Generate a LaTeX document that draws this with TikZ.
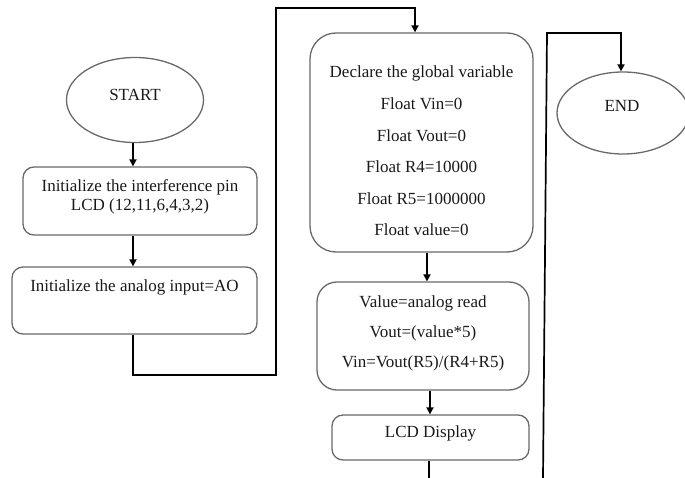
\documentclass[tikz,border=0pt]{standalone}
\usepackage{fontspec}
\setmainfont{Liberation Serif}
\usetikzlibrary{shapes.geometric,arrows.meta,calc}
\definecolor{boxgray}{RGB}{105,105,105}
\definecolor{inkgray}{RGB}{25,25,25}
\begin{document}
\begin{tikzpicture}[x=1pt,y=-1pt,
  flow/.style={draw=boxgray,line width=1.3pt,rounded corners=11pt,inner sep=0},
  term/.style={ellipse,draw=boxgray,line width=1.3pt,inner sep=0},
  wire/.style={line width=1.7pt,black},
  arrowwire/.style={wire,-{Triangle[length=7pt,width=7pt]}},
  txt/.style={font=\fontsize{17}{19}\selectfont,text=inkgray,inner sep=0,align=center}]
\useasboundingbox (0,0) rectangle (685,478);

% terminals
\node[term,minimum width=137,minimum height=85] (start) at (135,100) {};
\node[txt] (starttxt) at (135,95) {START};
\node[term,minimum width=132,minimum height=82] (stop) at (623,113) {};
\node[txt] (stoptxt) at (622,106) {END};

% process boxes
\node[flow,minimum width=234,minimum height=68] (pins) at (140,201) {};
\node[txt,font=\fontsize{17}{19}\selectfont] (pinstxt) at (140,196.5) {Initialize the interference pin\\LCD (12,11,6,4,3,2)};

\node[flow,minimum width=245,minimum height=67] (adc) at (134.5,300.5) {};
\node[txt] (adctxt) at (134.5,287) {Initialize the analog input=AO};

\node[flow,rounded corners=26pt,minimum width=223,minimum height=219] (vars) at (421.5,142.5) {};
\node[txt,font=\fontsize{17}{31.6}\selectfont] (varstxt) at (421.5,151) {Declare the global variable\\Float Vin=0\\Float Vout=0\\Float R4=10000\\Float R5=1000000\\Float value=0};

\node[flow,rounded corners=20pt,minimum width=212,minimum height=108] (calc) at (423,336) {};
\node[txt,font=\fontsize{17}{30}\selectfont] (calctxt) at (423,333) {Value=analog read\\Vout=(value*5)\\Vin=Vout(R5)/(R4+R5)};

\node[flow,minimum width=197,minimum height=45] (lcd) at (430.5,437.5) {};
\node[txt] (lcdtxt) at (430.5,433) {LCD Display};

% free ends and bends of the connectors
\coordinate (a1) at (133,375);
\coordinate (a2) at (276,375);
\coordinate (a3) at (276,8);
\coordinate (a4) at (415,8);
\coordinate (b0) at (429,478);
\coordinate (c0) at (543,478);
\coordinate (c1) at (547,33);
\coordinate (c2) at (621,33);

% connectors
\draw[arrowwire] (133,0 |- start.south) -- (133,0 |- pins.north);
\draw[arrowwire] (133,0 |- pins.south) -- (133,0 |- adc.north);
\draw[arrowwire] (133,0 |- adc.south) -- (a1) -- (a2) -- (a3) -- (a4) -- (a4 |- vars.north);
\draw[arrowwire] (427,0 |- vars.south) -- (427,0 |- calc.north);
\draw[arrowwire] (430,0 |- calc.south) -- (430,0 |- lcd.north);
\draw[wire] (429,0 |- lcd.south) -- (b0);
\draw[arrowwire] (c0) -- (c1) -- (c2) -- (c2 |- stop.north);
\end{tikzpicture}
\end{document}
